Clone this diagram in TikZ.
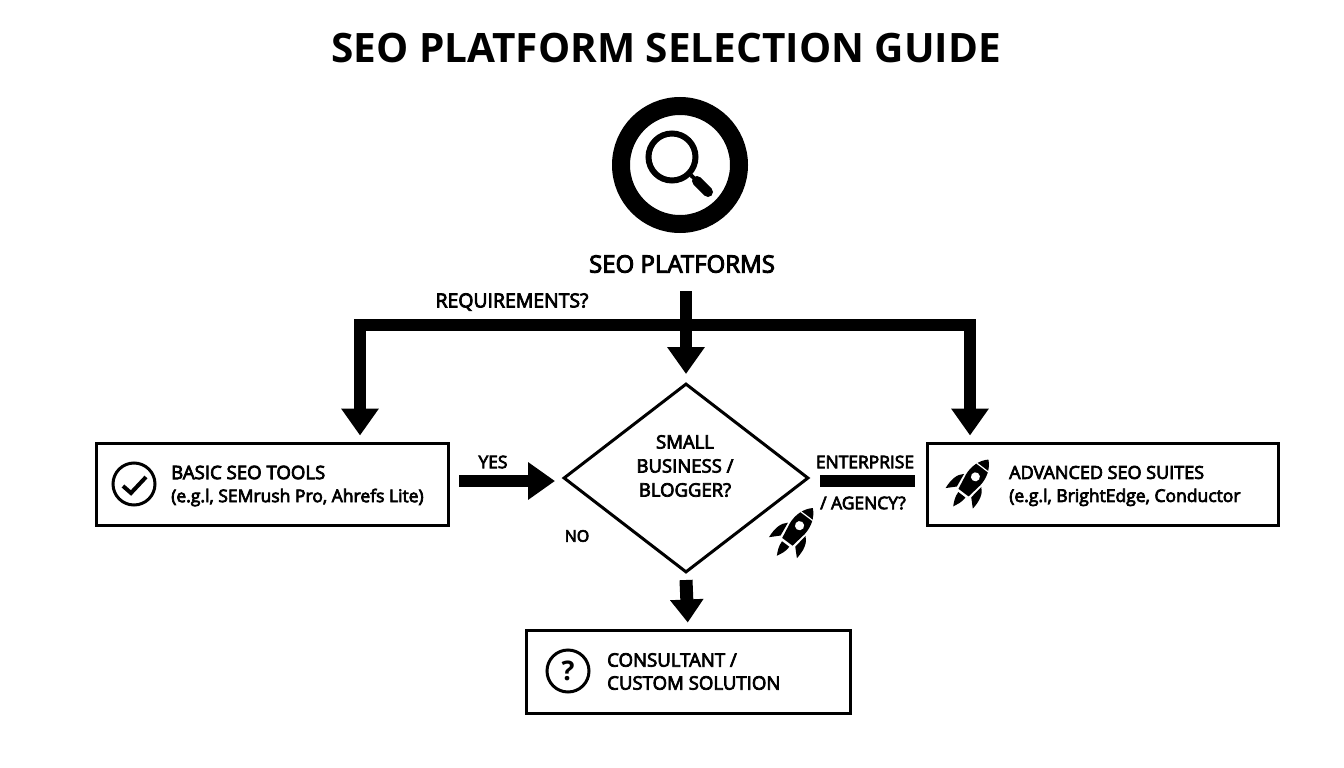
\documentclass[tikz,border=0pt]{standalone}
\usepackage{fontspec}
\setmainfont{Open Sans}
\newfontfamily\semifont[FakeBold=4]{Open Sans}
\usetikzlibrary{arrows.meta,shapes.geometric}
\tikzset{
  flow/.style={line width=12pt,-{Triangle[length=27pt,width=36pt]},shorten >=8pt},
  outcome/.style={draw,line width=3pt,minimum height=82pt,inner sep=0},
  lbl/.style={inner sep=0,font=\semifont\fontsize{17.4}{23}\selectfont,align=left},
  boxlbl/.style={inner sep=0,anchor=west,font=\semifont\fontsize{18.6}{23}\selectfont,align=left},
  badge/.style={draw,circle,line width=3pt,minimum size=42pt,inner sep=0},
  rocket/.pic={
    \fill (0,-34) .. controls (8,-27) and (11,-16) .. (10,-6) -- (7,12) -- (-7,12) -- (-10,-6) .. controls (-11,-16) and (-8,-27) .. (0,-34) -- cycle;
    \fill[white] (0,-10) circle (5);
    \draw[white,line width=1.2pt] (-8,-23) -- (8,-23);
    \fill (-12,-5) .. controls (-18,0) and (-20,8) .. (-19,20) -- (-10,11) -- cycle;
    \fill (12,-5) .. controls (18,0) and (20,8) .. (19,20) -- (10,11) -- cycle;
    \fill (-5,15) -- (5,15) .. controls (5,22) and (2,27) .. (0,31) .. controls (-2,27) and (-5,22) .. (-5,15) -- cycle;
  }
}
\begin{document}
\begin{tikzpicture}[x=1pt,y=-1pt]
  \useasboundingbox (0,0) rectangle (1344,768);

  % Title
  \node[inner sep=0,font=\bfseries\fontsize{40.5}{40}\selectfont] (title) at (666,48) {SEO PLATFORM SELECTION GUIDE};

  % Search icon
  \node[draw,circle,line width=18pt,minimum size=118pt,inner sep=0] (ring) at (680,165) {};
  \node[draw,circle,line width=6pt,minimum size=47pt,inner sep=0] (lens) at (672,157) {};
  \draw[line width=4pt] (lens) -- (697,181);
  \draw[line width=10pt,line cap=round] (697,181) -- (708,192);
  \node[lbl,font=\semifont\fontsize{24}{24}\selectfont] (platforms) at (682,264) {SEO PLATFORMS};

  % Decision and outcomes
  \node[draw,diamond,line width=3pt,aspect=1.3,minimum width=245pt,minimum height=189pt,inner sep=0] (choice) at (686,478) {};
  \node[lbl,align=center,font=\semifont\fontsize{18.5}{24}\selectfont] (choicetxt) at (685,466) {SMALL\\BUSINESS /\\BLOGGER?};
  \node[outcome,minimum width=352pt] (basic) at (272,484) {};
  \node[outcome,minimum width=351pt] (advanced) at (1102.5,484) {};
  \node[outcome,minimum width=324pt,minimum height=83pt] (consult) at (688,671.5) {};

  % Box contents
  \node[badge] (check) at (134,484) {};
  \draw[line width=4pt] (123,486) -- (131,493) -- (146,477);
  \node[boxlbl] (basictxt) at (171,486) {BASIC SEO TOOLS\\{\fontsize{17.5}{23}\selectfont (e.g.l, SEMrush Pro, Ahrefs Lite)}};
  \pic[rotate=-37,scale=.9] (rocketa) at (970,484) {rocket};
  \node[boxlbl,font=\semifont\fontsize{18}{23}\selectfont] (advancedtxt) at (1009,486) {ADVANCED SEO SUITES\\{\fontsize{17.5}{23}\selectfont (e.g.l, BrightEdge, Conductor}};
  \node[badge] (help) at (568,671) {};
  \node[inner sep=0,font=\bfseries\fontsize{27}{27}\selectfont] (helptxt) at (568,671) {?};
  \node[boxlbl] (consulttxt) at (607,671.5) {CONSULTANT /\\CUSTOM SOLUTION};
  \pic[rotate=-37,scale=.92] (rocketb) at (794,533) {rocket};

  % Connectors
  \coordinate (stem) at (686,291);
  \coordinate (busL) at (360,325);
  \coordinate (busR) at (970,325);
  \coordinate (yesL) at (459,481);
  \coordinate (yesR) at (563,481);
  \coordinate (entR) at (915,481);
  \coordinate (noT) at (686,580);
  \draw[flow] (stem) -- (choice.north);
  \draw[line width=12pt,{Triangle[length=27pt,width=36pt]}-{Triangle[length=27pt,width=36pt]},shorten <=6pt,shorten >=6pt]
    (busL |- basic.north) -- (busL) -- (busR) -- (busR |- advanced.north);
  \draw[flow] (yesL) -- (yesR);
  \draw[line width=12pt] (820,481) -- (entR);
  \draw[flow,line width=13pt,shorten >=6pt,-{Triangle[length=23pt,width=32pt]}] (noT) -- (consult.north);

  % Labels
  \node[lbl,font=\semifont\fontsize{19.4}{23}\selectfont] (req) at (512,302) {REQUIREMENTS?};
  \node[lbl] (yes) at (493,462) {YES};
  \node[lbl,font=\semifont\fontsize{16}{23}\selectfont] (no) at (577,536) {NO};
  \node[lbl] (ent) at (865,462) {ENTERPRISE};
  \node[lbl] (agency) at (863,503) {/ AGENCY?};
\end{tikzpicture}
\end{document}
